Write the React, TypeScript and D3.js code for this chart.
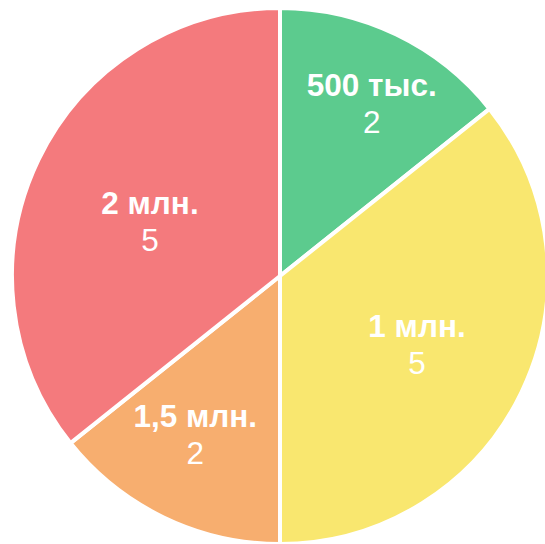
import React from "react";
import * as d3 from "d3";

const categories = ["500 тыс.", "1 млн.", "1,5 млн.", "2 млн."];
const values = [2, 5, 2, 5];
const colors = ["#5ccb8e", "#f9e76f", "#f7ae6f", "#f47a7d"];

const W = 545;
const H = 544;
const CX = 280;
const CY = 276;
const R = 268;

export default function App() {
  const data = categories.map((c, i) => ({ c, v: values[i], color: colors[i] }));
  const pie = d3.pie<any>().value((d) => d.v).sort(null);
  const arcs = pie(data);
  const arc = d3.arc<any>().innerRadius(0).outerRadius(R);

  return (
    <svg
      width={W}
      height={H}
      style={{ position: "absolute", left: 0, top: 0 }}
      fontFamily="'Liberation Sans', Arial, sans-serif"
    >
      <g transform={`translate(${CX},${CY})`}>
        {arcs.map((a, i) => (
          <path key={i} d={arc(a) as string} fill={a.data.color} stroke="#fff" strokeWidth={4} strokeLinejoin="round" />
        ))}
        {arcs.map((a, i) => {
          const span = a.endAngle - a.startAngle;
          // label placement: narrower slices push labels further out
          const t = (span - 0.8976) / 1.3464;
          const mid = (a.startAngle + a.endAngle) / 2 + ((2.3 - 3.4 * t) * Math.PI) / 180;
          const dist = R * (0.803 - 0.1136 * span);
          const x = Math.sin(mid) * dist + 3.5;
          const y = -Math.cos(mid) * dist + 4 + 14 * t;
          return (
            <g key={"l" + i} transform={`translate(${x},${y})`} fill="#fff" textAnchor="middle" fontSize={31.5}>
              <text y={-18.5} fontWeight="bold">{a.data.c}</text>
              <text y={18.5}>{a.data.v}</text>
            </g>
          );
        })}
      </g>
    </svg>
  );
}
